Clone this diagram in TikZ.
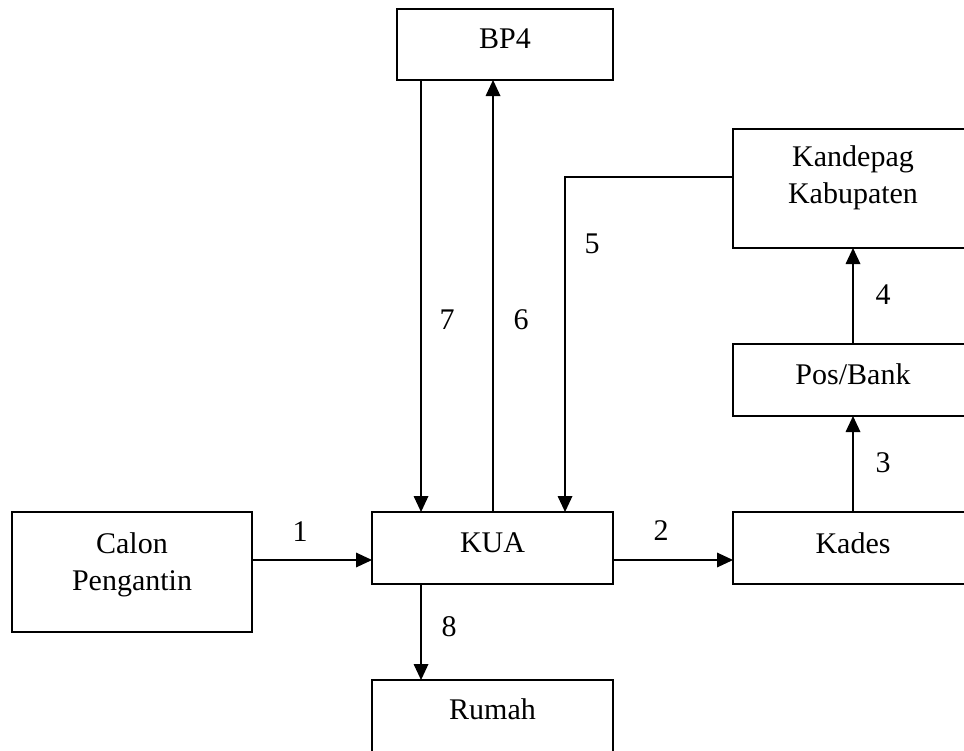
\documentclass[tikz,border=0pt]{standalone}
\usepackage{fontspec}
\setmainfont{Liberation Serif}
\usetikzlibrary{arrows.meta,calc}
\begin{document}
\begin{tikzpicture}[x=0.75pt,y=-0.75pt,
  box/.style={draw,line width=0.9pt,inner sep=0pt,outer sep=0pt,minimum width=180pt,minimum height=54pt},
  txt/.style={font=\fontsize{22.5}{28}\selectfont,align=center,inner sep=0pt},
  arr/.style={line width=0.9pt,-{Triangle[length=12pt,width=11pt]}},
  num/.style={font=\fontsize{22.5}{28}\selectfont,inner sep=0pt}]
\useasboundingbox (0,0) rectangle (964,750);
\clip (0,0) rectangle (964,750);
% boxes
\node[box,minimum width=162pt,minimum height=53.25pt,label={[txt,yshift=4.5pt]center:BP4}] (bp4) at (505,44.5) {};
\node[box,minimum height=89.25pt,label={[txt,yshift=8pt]center:Kandepag\\Kabupaten}] (kand) at (853,188.5) {};
\node[box,label={[txt,yshift=4.5pt]center:Pos/Bank}] (pos) at (853,380) {};
\node[box,label={[txt,yshift=3.75pt]center:Kades}] (kades) at (853,548) {};
\node[box,minimum width=180.75pt,label={[txt,yshift=3.75pt]center:KUA}] (kua) at (492.5,548) {};
\node[box,minimum height=90pt,label={[txt,yshift=5.6pt]center:Calon\\Pengantin}] (calon) at (132,572) {};
\node[box,minimum width=180.75pt,label={[txt,yshift=5.25pt]center:Rumah}] (rumah) at (492.5,716) {};
% connectors
\draw[arr] ([yshift=9pt]calon.east) -- ([yshift=9pt]calon.east -| kua.west);
\draw[arr] ([yshift=-9pt]kua.east) -- ([yshift=-9pt]kua.east -| kades.west);
\draw[arr] (kades.north) -- (pos.south);
\draw[arr] (pos.north) -- (kand.south);
\draw[arr] ([yshift=8.6pt]kand.west) -| ([xshift=54.4pt]kua.north);
\draw[arr] ([xshift=0.4pt]kua.north) -- ([xshift=0.4pt]kua.north |- bp4.south);
\draw[arr] ([xshift=-53.6pt]kua.north |- bp4.south) -- ([xshift=-53.6pt]kua.north);
\draw[arr] ([xshift=-53.6pt]kua.south) -- ([xshift=-53.6pt]kua.south |- rumah.north);
% labels
\node[num] (n1) at (300,532) {1};
\node[num] (n2) at (661,531) {2};
\node[num] (n3) at (883,463) {3};
\node[num] (n4) at (883,295) {4};
\node[num] (n5) at (592,244) {5};
\node[num] (n6) at (521,320) {6};
\node[num] (n7) at (447,320) {7};
\node[num] (n8) at (449,627) {8};
\end{tikzpicture}
\end{document}
